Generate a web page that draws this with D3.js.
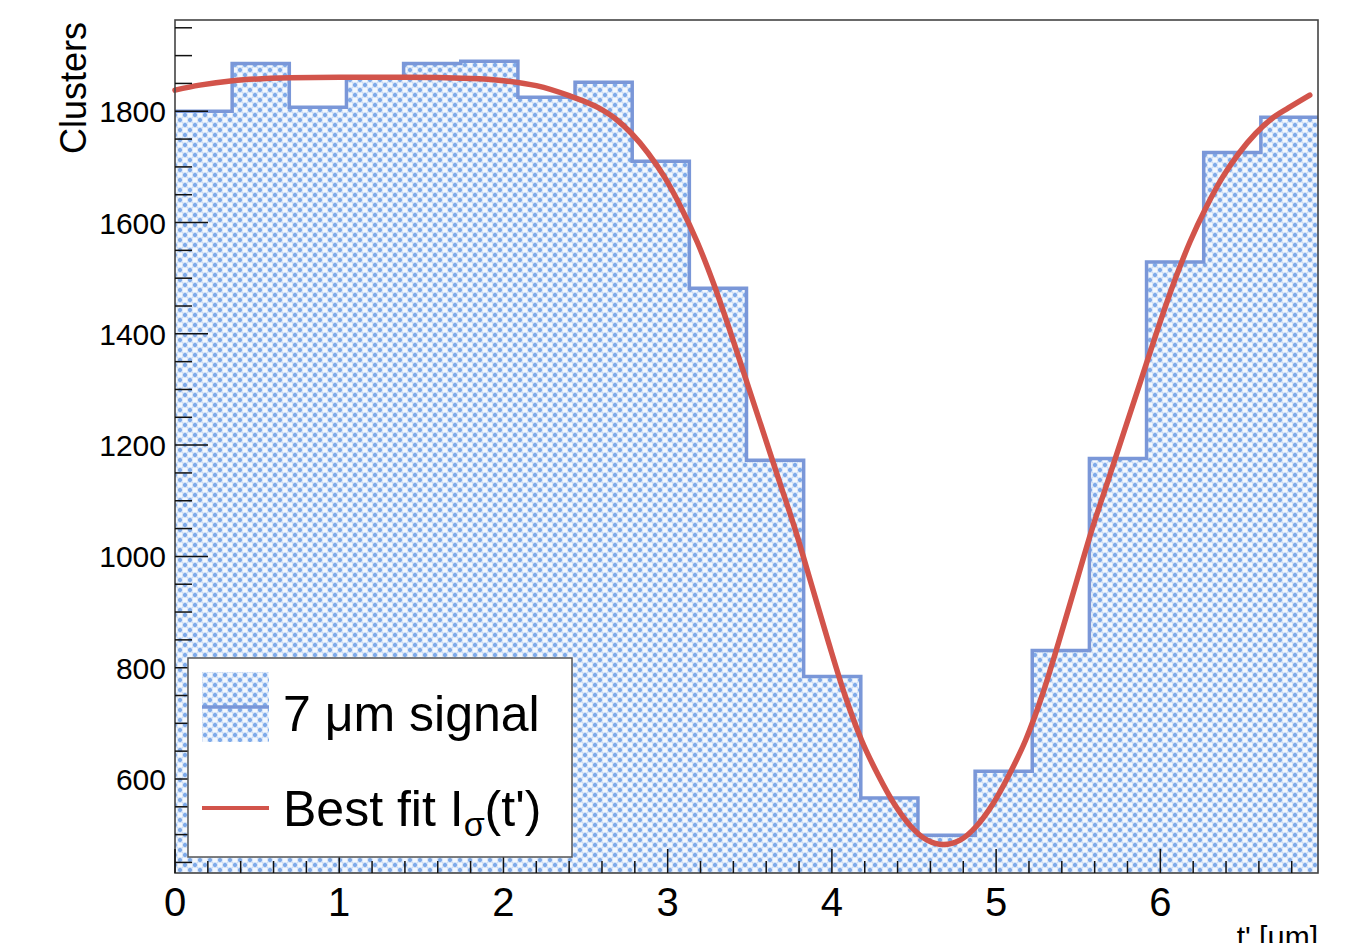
<!DOCTYPE html>
<html lang="en">
<head>
<meta charset="UTF-8">
<title>Clusters vs t'</title>
<style>
  body { margin: 0; background: #fff; }
  svg { display: block; font-family: "Liberation Sans", Arial, Helvetica, sans-serif; }
</style>
</head>
<body>
<script src="https://cdn.jsdelivr.net/npm/d3@7"></script>
<script>
// histogram: 20 bins between tMin and tMax
var tMin = 0, tMax = 6.96;
var counts = [1800, 1886, 1807, 1861, 1886, 1890, 1825, 1852, 1710, 1482,
              1173, 784, 566, 499, 614, 831, 1176, 1529, 1726, 1789];

// best fit curve
var fitT = [0, 0.15, 0.35, 0.7, 1.0, 1.4, 1.8, 2.0, 2.2, 2.4, 2.58, 2.68, 2.78, 2.88, 2.98,
            3.08, 3.18, 3.28, 3.38, 3.48, 3.58, 3.68, 3.78, 3.88, 3.98, 4.08, 4.18, 4.28, 4.38,
            4.48, 4.58, 4.68, 4.78, 4.88, 4.98, 5.08, 5.18, 5.28, 5.38, 5.48, 5.58, 5.68, 5.78,
            5.88, 5.98, 6.08, 6.18, 6.28, 6.38, 6.48, 6.58, 6.68, 6.78, 6.91];
var fitI = [1838, 1847, 1855, 1860, 1861, 1861, 1859, 1855, 1846, 1828, 1806, 1787, 1760, 1725, 1682,
            1628, 1565, 1490, 1405, 1315, 1225, 1135, 1045, 945, 845, 750, 670, 608, 555,
            515, 490, 482, 490, 515, 555, 608, 670, 750, 845, 945, 1045, 1135, 1225,
            1315, 1405, 1490, 1565, 1628, 1682, 1725, 1760, 1787, 1806, 1829];

var xTicks = [0, 1, 2, 3, 4, 5, 6];
var yTicks = [600, 800, 1000, 1200, 1400, 1600, 1800];

var legendItems = ['7 \u03bcm signal', 'Best fit'];

var W = 1360, H = 943;
var plotL = 175, plotR = 1318, plotT = 20, plotB = 873;

var x = d3.scaleLinear().domain([tMin, tMax]).range([plotL, plotR]);
var y = d3.scaleLinear().domain([431, 1964]).range([plotB, plotT]);

var svg = d3.select('body').append('svg')
    .attr('width', W)
    .attr('height', H);

// crosshatch fill pattern
var tile = 10, dot = 2.7;
var defs = svg.append('defs');
var pat = defs.append('pattern')
    .attr('id', 'hatch')
    .attr('patternUnits', 'userSpaceOnUse')
    .attr('width', tile)
    .attr('height', tile);
pat.append('rect').attr('width', tile).attr('height', tile).attr('fill', '#f4f8fd');
pat.append('path')
    .attr('d', 'M0,0L' + tile + ',' + tile + 'M' + tile + ',0L0,' + tile)
    .attr('stroke', '#cadcf5')
    .attr('stroke-width', 1.4);
[[0, 0], [tile, 0], [0, tile], [tile, tile], [tile / 2, tile / 2]].forEach(function(p) {
    pat.append('path')
        .attr('d', 'M' + p[0] + ',' + (p[1] - dot) + 'L' + (p[0] + dot) + ',' + p[1] +
              'L' + p[0] + ',' + (p[1] + dot) + 'L' + (p[0] - dot) + ',' + p[1] + 'Z')
        .attr('fill', '#7eaaea');
});

var binW = (tMax - tMin) / counts.length;
var bins = counts.map(function(c, i) {
    return { x0: tMin + i * binW, x1: tMin + (i + 1) * binW, v: c };
});

// histogram fill
svg.append('g').selectAll('rect')
    .data(bins)
    .enter()
    .append('rect')
    .attr('x', function(d) { return x(d.x0); })
    .attr('y', function(d) { return y(d.v); })
    .attr('width', function(d) { return x(d.x1) - x(d.x0) + 0.5; })
    .attr('height', function(d) { return plotB - y(d.v); })
    .attr('fill', 'url(#hatch)');

// histogram outline (steps)
var stepPts = [];
bins.forEach(function(d) {
    stepPts.push([x(d.x0), y(d.v)]);
    stepPts.push([x(d.x1), y(d.v)]);
});
svg.append('path')
    .attr('d', d3.line()(stepPts))
    .attr('fill', 'none')
    .attr('stroke', '#7a97d8')
    .attr('stroke-width', 3.5);

// fit curve
var fitLine = d3.line()
    .x(function(d) { return x(d[0]); })
    .y(function(d) { return y(d[1]); })
    .curve(d3.curveMonotoneX);
svg.append('path')
    .attr('d', fitLine(fitT.map(function(t, i) { return [t, fitI[i]]; })))
    .attr('fill', 'none')
    .attr('stroke', '#d2544b')
    .attr('stroke-width', 5.5)
    .attr('stroke-linecap', 'round');

// frame
svg.append('rect')
    .attr('x', plotL).attr('y', plotT)
    .attr('width', plotR - plotL).attr('height', plotB - plotT)
    .attr('fill', 'none')
    .attr('stroke', '#444')
    .attr('stroke-width', 1.6);

// y ticks
var yMinor = d3.range(450, 1951, 50);
svg.append('g').selectAll('line')
    .data(yMinor)
    .enter()
    .append('line')
    .attr('x1', plotL)
    .attr('x2', function(d) { return d % 200 === 0 ? plotL + 33 : plotL + 17; })
    .attr('y1', function(d) { return y(d); })
    .attr('y2', function(d) { return y(d); })
    .attr('stroke', '#111')
    .attr('stroke-width', 1.5);
svg.append('g').selectAll('text')
    .data(yTicks)
    .enter()
    .append('text')
    .attr('x', 166)
    .attr('y', function(d) { return y(d) + 11; })
    .attr('text-anchor', 'end')
    .attr('font-size', 30)
    .text(function(d) { return d; });

// x ticks
var xMinor = d3.range(0, 35).map(function(i) { return i / 5; }).filter(function(d) { return d <= tMax; });
svg.append('g').selectAll('line')
    .data(xMinor)
    .enter()
    .append('line')
    .attr('x1', function(d) { return x(d); })
    .attr('x2', function(d) { return x(d); })
    .attr('y1', plotB)
    .attr('y2', function(d, i) { return i % 5 === 0 ? plotB - 24 : plotB - 12; })
    .attr('stroke', '#111')
    .attr('stroke-width', 1.5);
svg.append('g').selectAll('text')
    .data(xTicks)
    .enter()
    .append('text')
    .attr('x', function(d) { return x(d); })
    .attr('y', 916)
    .attr('text-anchor', 'middle')
    .attr('font-size', 40)
    .text(function(d) { return d; });

// axis titles
svg.append('text')
    .attr('transform', 'translate(86,22) rotate(-90)')
    .attr('text-anchor', 'end')
    .attr('font-size', 36)
    .text('Clusters');
svg.append('text')
    .attr('x', plotR)
    .attr('y', 947)
    .attr('text-anchor', 'end')
    .attr('font-size', 30)
    .text("t' [\u03bcm]");

// legend
var lg = svg.append('g');
lg.append('rect')
    .attr('x', 188).attr('y', 658)
    .attr('width', 384).attr('height', 199)
    .attr('fill', '#fff')
    .attr('stroke', '#555')
    .attr('stroke-width', 1.5);
lg.append('rect')
    .attr('x', 202).attr('y', 672)
    .attr('width', 67).attr('height', 70)
    .attr('fill', 'url(#hatch)');
lg.append('line')
    .attr('x1', 202).attr('x2', 269)
    .attr('y1', 707).attr('y2', 707)
    .attr('stroke', '#7a97d8').attr('stroke-width', 3.5);
lg.append('line')
    .attr('x1', 202).attr('x2', 269)
    .attr('y1', 808).attr('y2', 808)
    .attr('stroke', '#d2544b').attr('stroke-width', 4);
lg.append('text')
    .attr('x', 283).attr('y', 731)
    .attr('font-size', 50)
    .text(legendItems[0]);
var t2 = lg.append('text')
    .attr('x', 283).attr('y', 826)
    .attr('font-size', 50);
t2.append('tspan').text(legendItems[1] + ' I');
t2.append('tspan').attr('dy', 10).attr('font-size', 34).text('\u03c3');
t2.append('tspan').attr('dy', -10).text("(t')");
</script>
</body>
</html>
